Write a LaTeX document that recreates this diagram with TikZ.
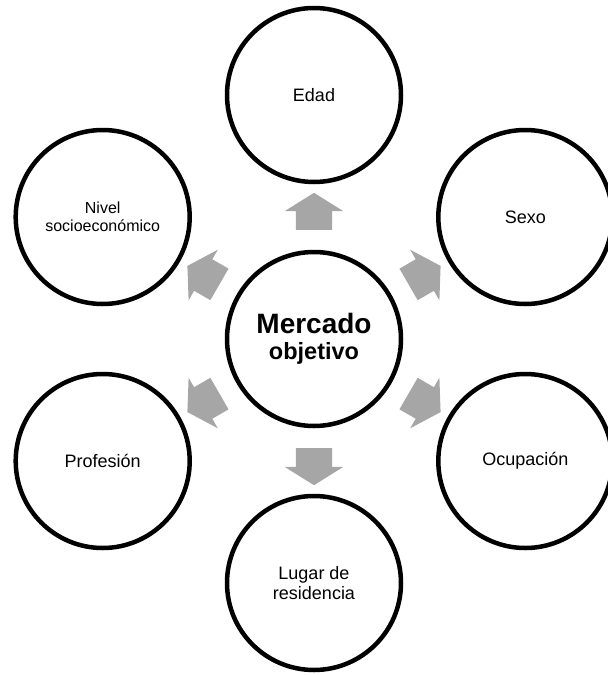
\documentclass[tikz,border=0pt]{standalone}
\usepackage{fontspec}
\setmainfont{Liberation Sans}
\usetikzlibrary{shapes.arrows,calc}
\definecolor{arrowgray}{RGB}{166,166,166}
\begin{document}
\begin{tikzpicture}[x=1pt,y=-1pt,
  topic/.style={circle,draw=black,line width=4.5pt,minimum size=174pt,
    inner sep=0pt,align=center,font=\fontsize{18}{20}\selectfont},
  flow/.style={single arrow,fill=arrowgray,draw=none,minimum height=37pt,
    inner xsep=0pt,inner ysep=18pt,single arrow head extend=11pt,
    single arrow tip angle=116,single arrow head indent=0pt}]
\useasboundingbox (0,0) rectangle (608,675);

% central topic
\node[topic,font=\bfseries\fontsize{28}{26}\selectfont] (c) at (314,339)
  {Mercado\\{\fontsize{23.5}{26}\selectfont objetivo}};

% surrounding segmentation criteria
\node[topic] (edad) at (314,95) {Edad};
\node[topic] (sexo) at (525.3,217) {Sexo};
\node[topic] (ocup) at (525.3,461) {Ocupación};
\node[topic] (lugar) at (314,583) {Lugar de\\residencia};
\node[topic] (prof) at (102.7,461) {Profesión};
\node[topic,font=\fontsize{16}{17.5}\selectfont] (nivel) at (102.7,217) {Nivel\\socioeconómico};

% block arrows pointing outwards
\node[flow,rotate=90]  (a1) at ($(c)!0.5!(edad)$) {};
\node[flow,rotate=30]  (a2) at ($(c)!0.5!(sexo)$) {};
\node[flow,rotate=-30] (a3) at ($(c)!0.5!(ocup)$) {};
\node[flow,rotate=-90] (a4) at ($(c)!0.5!(lugar)$) {};
\node[flow,rotate=210] (a5) at ($(c)!0.5!(prof)$) {};
\node[flow,rotate=150] (a6) at ($(c)!0.5!(nivel)$) {};
\end{tikzpicture}
\end{document}
